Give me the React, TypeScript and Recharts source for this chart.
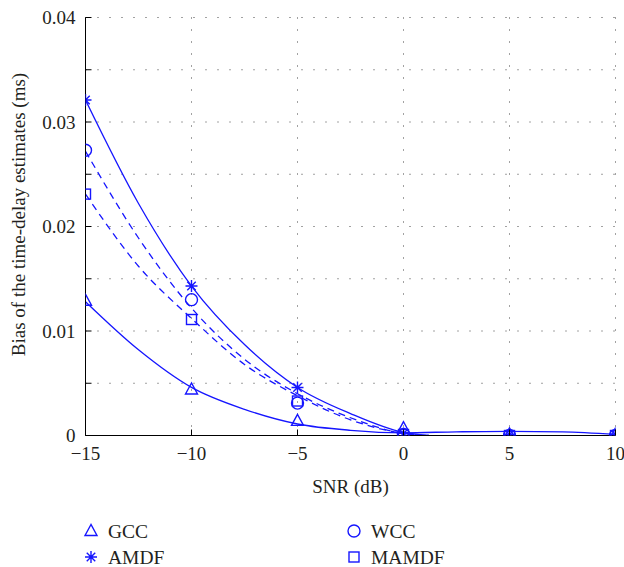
import {
  ComposedChart,
  Line,
  Scatter,
  XAxis,
  YAxis,
  CartesianGrid,
  Legend,
  Label,
} from "recharts";

const BLUE = "#1616ff";
const INK = "#231f20";
const FONT = '"Liberation Serif", "DejaVu Serif", serif';

const snrTicks = [-15, -10, -5, 0, 5, 10];
const biasTicks = [0, 0.005, 0.01, 0.015, 0.02, 0.025, 0.03, 0.035, 0.04];

// measured estimates (markers)
const snrPoints = [-15, -10, -5, 0, 5, 10];
const gccPoints = [0.0129, 0.0044, 0.0014, 0.0007, 0.0001, 0.0001];
const amdfPoints = [0.0321, 0.0143, 0.0046, 0.0002, 0.0001, 0.0001];
const wccPoints = [0.0273, 0.013, 0.0031, 0.0001, 0.0, 0.0];
const mamdfPoints = [0.0231, 0.0111, 0.0033, 0.0001, 0.0, 0.0];

// fitted curves
const gccCurveSnr = [-15, -12.5, -10, -7.5, -5, -2.5, 0, 2.5, 5, 7.5, 10];
const gccCurve = [0.0128, 0.0082, 0.0046, 0.0025, 0.0011, 0.0005, 0.00026, 0.00035, 0.0004, 0.00035, 0.0001];
const fitCurveSnr = [-15, -12.5, -10, -7.5, -5, -2.5, 0, 1.2];
const amdfCurve = [0.0321, 0.0222, 0.0143, 0.0087, 0.0046, 0.0021, 0.0003, 0.0];
const wccCurve = [0.0272, 0.0189, 0.0122, 0.0073, 0.004, 0.0017, 0.0002, 0.0];
const mamdfCurve = [0.0231, 0.0162, 0.0112, 0.0068, 0.0038, 0.0015, 0.0002, 0.0];

const legendNames = ["GCC", "WCC", "AMDF", "MAMDF"];
const legendKinds: Kind[] = ["triangle", "circle", "star", "square"];

type Kind = "triangle" | "star" | "circle" | "square";

const zip = (xs: number[], ys: number[]) => xs.map((x, i) => ({ x, y: ys[i] }));

function Marker({ kind, cx, cy }: { kind: Kind; cx: number; cy: number }) {
  const common = { fill: "none", stroke: BLUE, strokeWidth: 1.4 };
  if (kind === "triangle")
    return <polygon points={`${cx},${cy - 6.5} ${cx - 6},${cy + 4.5} ${cx + 6},${cy + 4.5}`} {...common} />;
  if (kind === "circle") return <circle cx={cx} cy={cy} r={6} {...common} />;
  if (kind === "square") return <rect x={cx - 5} y={cy - 5} width={10} height={10} {...common} />;
  const r = 6;
  const d = r * 0.707;
  return (
    <path
      d={`M${cx - r},${cy}H${cx + r}M${cx},${cy - r}V${cy + r}M${cx - d},${cy - d}L${cx + d},${cy + d}M${cx - d},${cy + d}L${cx + d},${cy - d}`}
      {...common}
    />
  );
}

const shapeOf = (kind: Kind) => (p: any) => <Marker kind={kind} cx={p.cx} cy={p.cy} />;

function BottomTick({ x, y, payload }: any) {
  const v = payload.value as number;
  const text = v < 0 ? `\u2212${Math.abs(v)}` : `${v}`;
  return (
    <g>
      <line x1={x} y1={y} x2={x} y2={y - 6} stroke="#000" />
      <text x={x} y={y + 24} textAnchor="middle" fontFamily={FONT} fontSize={19} fill={INK}>
        {text}
      </text>
    </g>
  );
}

function TopTick({ x, y }: any) {
  return <line x1={x} y1={y} x2={x} y2={y + 6} stroke="#000" />;
}

function LeftTick({ x, y, payload }: any) {
  const v = payload.value as number;
  const major = Math.abs(v * 100 - Math.round(v * 100)) < 1e-6;
  return (
    <g>
      <line x1={x} y1={y} x2={x + 6} y2={y} stroke="#000" />
      {major && (
        <text x={x - 10} y={y + 6.5} textAnchor="end" fontFamily={FONT} fontSize={19} fill={INK}>
          {v === 0 ? "0" : v.toFixed(2)}
        </text>
      )}
    </g>
  );
}

function RightTick({ x, y }: any) {
  return <line x1={x} y1={y} x2={x - 6} y2={y} stroke="#000" />;
}

function LegendBox() {
  return (
    <svg width={624} height={52} style={{ display: "block", overflow: "visible" }}>
      {legendNames.map((name, i) => {
        const cx = i % 2 === 0 ? 91 : 354;
        const cy = i < 2 ? 16 : 42;
        return (
          <g key={name}>
            <Marker kind={legendKinds[i]} cx={cx} cy={cy} />
            <text x={cx + 17} y={cy + 6.5} fontFamily={FONT} fontSize={19.5} fill={INK}>
              {name}
            </text>
          </g>
        );
      })}
    </svg>
  );
}

export default function App() {
  return (
    <div style={{ position: "absolute", left: 0, top: 0, width: 624, height: 567, background: "#fff" }}>
      <ComposedChart width={624} height={567} margin={{ top: 17.5, right: 8.5, bottom: 0, left: 0.5 }}>
        <CartesianGrid stroke="#444" strokeDasharray="1 11" />
        <XAxis
          dataKey="x"
          type="number"
          domain={[-15, 10]}
          ticks={snrTicks}
          interval={0}
          allowDataOverflow
          height={131.5}
          tickSize={0}
          tickMargin={0}
          tickLine={false}
          axisLine={{ stroke: "#000" }}
          tick={BottomTick}
        >
          <Label
            content={({ viewBox }: any) => (
              <text
                x={viewBox.x + viewBox.width / 2}
                y={viewBox.y + 57}
                textAnchor="middle"
                fontFamily={FONT}
                fontSize={19}
                fill={INK}
              >
                SNR (dB)
              </text>
            )}
          />
        </XAxis>
        <XAxis
          xAxisId="top"
          orientation="top"
          dataKey="x"
          type="number"
          domain={[-15, 10]}
          ticks={snrTicks}
          interval={0}
          allowDataOverflow
          height={0}
          tickSize={0}
          tickMargin={0}
          tickLine={false}
          axisLine={{ stroke: "#000" }}
          tick={TopTick}
        />
        <YAxis
          type="number"
          domain={[0, 0.04]}
          ticks={biasTicks}
          interval={0}
          allowDataOverflow
          width={85}
          tickSize={0}
          tickMargin={0}
          tickLine={false}
          axisLine={{ stroke: "#000" }}
          tick={LeftTick}
        >
          <Label
            content={({ viewBox }: any) => {
              const lx = viewBox.x + 24;
              const ly = viewBox.y + viewBox.height / 2 - 12;
              return (
                <text
                  x={lx}
                  y={ly}
                  transform={`rotate(-90 ${lx} ${ly})`}
                  textAnchor="middle"
                  fontFamily={FONT}
                  fontSize={19}
                  fill={INK}
                >
                  Bias of the time-delay estimates (ms)
                </text>
              );
            }}
          />
        </YAxis>
        <YAxis
          yAxisId="right"
          orientation="right"
          type="number"
          domain={[0, 0.04]}
          ticks={biasTicks}
          interval={0}
          allowDataOverflow
          width={0}
          tickSize={0}
          tickMargin={0}
          tickLine={false}
          axisLine={{ stroke: "#000" }}
          tick={RightTick}
        />
        <Legend
          layout="horizontal"
          verticalAlign="middle"
          align="center"
          wrapperStyle={{ left: 0, top: 515, width: 624, height: 52 }}
          content={() => <LegendBox />}
        />

        <Line data={zip(gccCurveSnr, gccCurve)} dataKey="y" type="monotone" stroke={BLUE} strokeWidth={1.3} dot={false} isAnimationActive={false} />
        <Line data={zip(fitCurveSnr, amdfCurve)} dataKey="y" type="monotone" stroke={BLUE} strokeWidth={1.3} dot={false} isAnimationActive={false} />
        <Line data={zip(fitCurveSnr, wccCurve)} dataKey="y" type="monotone" stroke={BLUE} strokeWidth={1.3} strokeDasharray="7 5" dot={false} isAnimationActive={false} />
        <Line data={zip(fitCurveSnr, mamdfCurve)} dataKey="y" type="monotone" stroke={BLUE} strokeWidth={1.3} strokeDasharray="7 5" dot={false} isAnimationActive={false} />

        <Scatter name="GCC" data={zip(snrPoints, gccPoints)} dataKey="y" shape={shapeOf("triangle")} isAnimationActive={false} />
        <Scatter name="AMDF" data={zip(snrPoints, amdfPoints)} dataKey="y" shape={shapeOf("star")} isAnimationActive={false} />
        <Scatter name="WCC" data={zip(snrPoints, wccPoints)} dataKey="y" shape={shapeOf("circle")} isAnimationActive={false} />
        <Scatter name="MAMDF" data={zip(snrPoints, mamdfPoints)} dataKey="y" shape={shapeOf("square")} isAnimationActive={false} />
      </ComposedChart>
    </div>
  );
}
